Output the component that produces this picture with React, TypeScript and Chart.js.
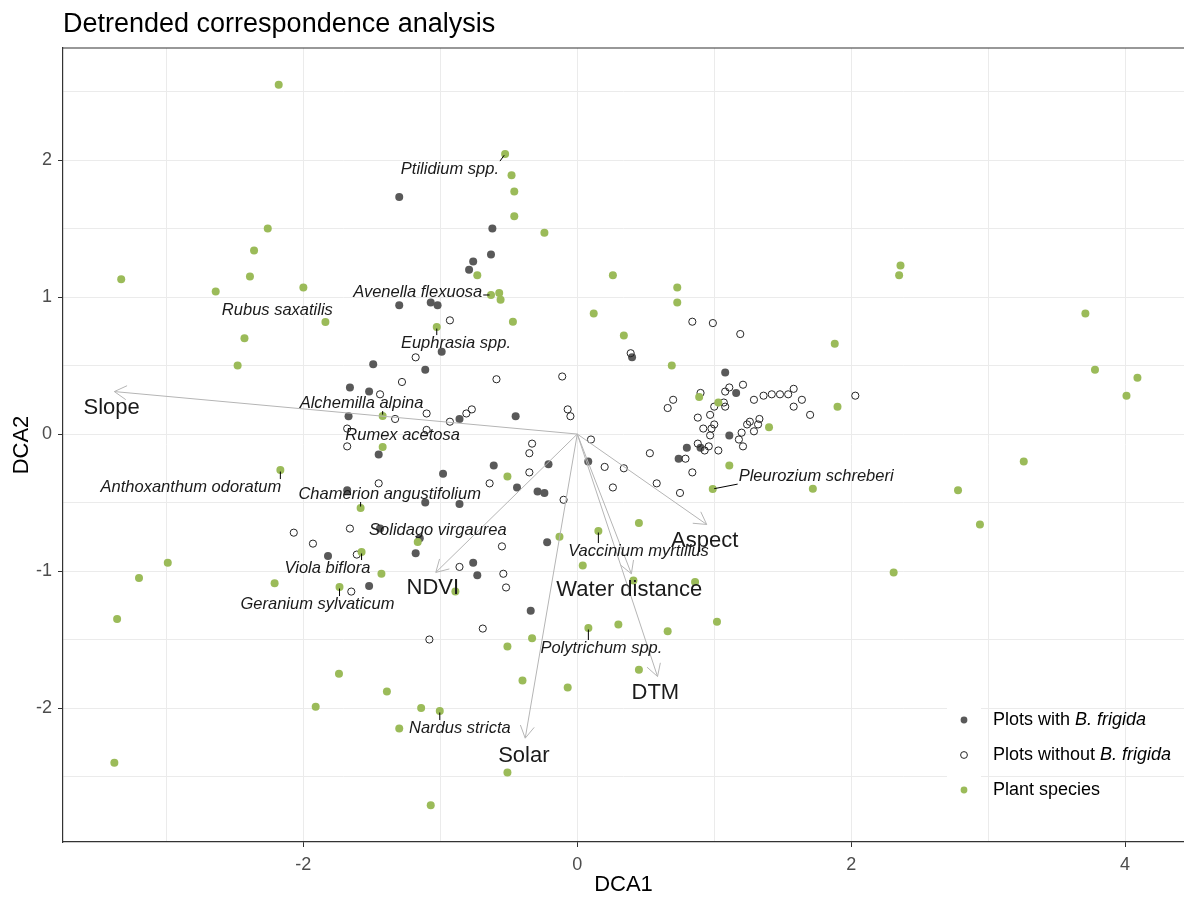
import React, { useEffect, useRef } from 'react';
import { Chart, registerables } from 'chart.js';

Chart.register(...registerables);

const FONT = '"Liberation Sans", Arial, Helvetica, sans-serif';

const X_MIN = -3.755;
const X_MAX = 4.43;
const Y_MIN = -2.978;
const Y_MAX = 2.818;

const xMajorTicks = [-2, 0, 2, 4];
const xMinorTicks = [-3, -1, 1, 3];
const yMajorTicks = [-2, -1, 0, 1, 2];
const yMinorTicks = [-2.5, -1.5, -0.5, 0.5, 1.5, 2.5];

const chartTitle = 'Detrended correspondence analysis';
const xTitle = 'DCA1';
const yTitle = 'DCA2';

// Plots with B. frigida (filled dark points)
const plotsWith: [number, number][] = [
  [-1.30, 1.73], [-0.62, 1.50], [-0.63, 1.31], [-0.76, 1.26], [-0.79, 1.20],
  [-1.30, 0.94], [-1.07, 0.96], [-1.02, 0.94], [-0.99, 0.60], [-1.49, 0.51],
  [-1.11, 0.47], [-1.66, 0.34], [-1.52, 0.31], [-1.67, 0.13], [-0.86, 0.11],
  [-0.45, 0.13], [-1.45, -0.15], [-0.61, -0.23], [-0.21, -0.22], [0.08, -0.20],
  [-0.98, -0.29], [-0.44, -0.39], [-0.29, -0.42], [-0.24, -0.43], [-1.68, -0.41],
  [-1.11, -0.50], [-0.86, -0.51], [-1.15, -0.76], [-1.44, -0.69], [-1.18, -0.87],
  [-0.22, -0.79], [-1.82, -0.89], [-0.76, -0.94], [-0.73, -1.03], [-1.52, -1.11],
  [-0.34, -1.29], [0.40, 0.56], [1.08, 0.45], [1.16, 0.30], [1.11, -0.01],
  [0.80, -0.10], [0.74, -0.18], [0.90, -0.10],
];

// Plots without B. frigida (open circles)
const plotsWithout: [number, number][] = [
  [-0.93, 0.83], [-1.18, 0.56], [-1.28, 0.38], [-0.59, 0.40], [-0.11, 0.42],
  [-1.44, 0.29], [-1.33, 0.11], [-1.10, 0.15], [-0.93, 0.09], [-0.81, 0.15],
  [-0.77, 0.18], [-0.07, 0.18], [-0.05, 0.13], [-1.68, 0.04], [-1.10, 0.03],
  [-1.68, -0.09], [0.10, -0.04], [-0.33, -0.07], [-0.35, -0.14], [0.20, -0.24],
  [0.34, -0.25], [-0.35, -0.28], [-1.45, -0.36], [-0.64, -0.36], [0.26, -0.39],
  [-0.10, -0.48], [-1.66, -0.69], [-0.55, -0.82], [-2.07, -0.72], [-1.93, -0.80],
  [-1.61, -0.88], [-1.65, -1.15], [-0.86, -0.97], [-0.54, -1.02], [-0.52, -1.12],
  [-0.69, -1.42], [-1.08, -1.50],
  [0.84, 0.82], [0.99, 0.81], [1.19, 0.73], [0.39, 0.59], [1.11, 0.34],
  [1.21, 0.36], [1.08, 0.31], [0.90, 0.30], [0.70, 0.25], [0.66, 0.19],
  [1.29, 0.25], [1.36, 0.28], [1.42, 0.29], [1.48, 0.29], [1.54, 0.29],
  [1.58, 0.33], [1.64, 0.25], [1.58, 0.20], [1.70, 0.14], [2.03, 0.28],
  [1.07, 0.23], [1.08, 0.20], [1.00, 0.20], [0.97, 0.14], [0.88, 0.12],
  [1.00, 0.07], [0.92, 0.04], [0.98, 0.04], [0.97, -0.01], [1.33, 0.11],
  [1.26, 0.09], [1.24, 0.07], [1.32, 0.07], [1.29, 0.02], [1.20, 0.01],
  [1.18, -0.04], [1.21, -0.09], [0.88, -0.07], [0.96, -0.09], [0.93, -0.12],
  [1.03, -0.12], [0.79, -0.18], [0.53, -0.14], [0.84, -0.28], [0.58, -0.36],
  [0.75, -0.43],
];

// Plant species scores (green points)
const speciesPoints: [number, number][] = [
  [-2.18, 2.55], [-3.33, 1.13], [-2.64, 1.04], [-2.39, 1.15], [-2.36, 1.34],
  [-2.26, 1.50], [-2.00, 1.07], [-1.839, 0.818], [-2.43, 0.70], [-2.48, 0.50],
  [-2.168, -0.263], [-1.582, -0.540], [-1.575, -0.861], [-1.421, 0.131], [-1.421, -0.095],
  [-1.026, 0.781], [-1.165, -0.788], [-0.51, -0.31], [-0.13, -0.75], [0.154, -0.708],
  [-0.47, 0.82], [0.12, 0.88], [0.34, 0.72], [-0.527, 2.044], [-0.48, 1.89],
  [-0.46, 1.77], [-0.46, 1.59], [-0.24, 1.47], [-0.73, 1.16], [0.26, 1.16],
  [-0.630, 1.015], [-0.57, 1.03], [-0.56, 0.98], [0.73, 1.07], [0.73, 0.96],
  [1.88, 0.66], [0.69, 0.50], [0.89, 0.27], [1.03, 0.23], [1.90, 0.20],
  [1.40, 0.05], [1.11, -0.23], [0.989, -0.401], [1.72, -0.40], [2.36, 1.23],
  [2.35, 1.16], [3.71, 0.88], [3.78, 0.47], [4.09, 0.41], [4.01, 0.28],
  [3.26, -0.20], [2.78, -0.41], [2.94, -0.66], [2.31, -1.01], [0.45, -0.65],
  [0.41, -1.07], [0.86, -1.08], [0.30, -1.39], [0.66, -1.44], [1.02, -1.37],
  [0.45, -1.72], [-1.43, -1.02], [-1.736, -1.117], [-0.89, -1.15], [0.04, -0.96],
  [0.081, -1.416], [-0.33, -1.49], [-0.51, -1.55], [-1.74, -1.75], [-1.39, -1.88],
  [-0.40, -1.80], [-0.07, -1.85], [-1.14, -2.00], [-1.004, -2.022], [-1.30, -2.15],
  [-0.51, -2.47], [-1.07, -2.71], [-2.99, -0.94], [-3.20, -1.05], [-2.21, -1.09],
  [-3.36, -1.35], [-1.91, -1.99], [-3.38, -2.40],
];

// Environmental vectors
const envNames = ['Slope', 'Aspect', 'Water distance', 'DTM', 'NDVI', 'Solar'];
const envTips: [number, number][] = [
  [-3.38, 0.31], [0.945, -0.66], [0.395, -1.02], [0.586, -1.77], [-1.033, -1.01], [-0.38, -2.22],
];
const envLabelPos: [number, number][] = [
  [-3.40, 0.19], [0.93, -0.78], [0.38, -1.14], [0.57, -1.89], [-1.055, -1.12], [-0.39, -2.35],
];

// Labelled species
const speciesNames = [
  'Ptilidium spp.', 'Avenella flexuosa', 'Rubus saxatilis', 'Euphrasia spp.',
  'Alchemilla alpina', 'Rumex acetosa', 'Anthoxanthum odoratum', 'Chamerion angustifolium',
  'Solidago virgaurea', 'Viola biflora', 'Geranium sylvaticum', 'Vaccinium myrtillus',
  'Pleurozium schreberi', 'Polytrichum spp.', 'Nardus stricta',
];
const speciesLabelPos: [number, number][] = [
  [-0.930, 1.934], [-1.165, 1.036], [-2.190, 0.905], [-0.886, 0.664],
  [-1.575, 0.226], [-1.275, -0.007], [-2.821, -0.387], [-1.370, -0.438],
  [-1.018, -0.701], [-1.824, -0.978], [-1.897, -1.241], [0.447, -0.854],
  [1.744, -0.307], [0.176, -1.562], [-0.857, -2.146],
];
const speciesLabelPoint: [number, number][] = [
  [-0.527, 2.044], [-0.630, 1.015], [-1.839, 0.818], [-1.026, 0.781],
  [-1.421, 0.131], [-1.421, -0.095], [-2.168, -0.263], [-1.582, -0.540],
  [-1.165, -0.788], [-1.575, -0.861], [-1.736, -1.117], [0.154, -0.708],
  [0.989, -0.401], [0.081, -1.416], [-1.004, -2.022],
];

const legendItems = [
  { plain: 'Plots with ', italic: 'B. frigida', kind: 'with' },
  { plain: 'Plots without ', italic: 'B. frigida', kind: 'without' },
  { plain: 'Plant species', italic: '', kind: 'species' },
];

const COL_WITH = '#595959';
const COL_WITHOUT = '#262626';
const COL_SPECIES = '#9BBB59';
const COL_ARROW = '#b5b5b5';

const toXY = (arr: [number, number][]) => arr.map(([x, y]) => ({ x, y }));

const decorPlugin = {
  id: 'decor',
  afterDatasetsDraw(chart: any) {
    const { ctx, scales, chartArea } = chart;
    const xs = scales.x;
    const ys = scales.y;
    ctx.save();
    // top border of panel
    ctx.strokeStyle = '#333333';
    ctx.lineWidth = 1.2;
    ctx.beginPath();
    ctx.moveTo(chartArea.left, chartArea.top);
    ctx.lineTo(chartArea.right, chartArea.top);
    ctx.stroke();

    // arrow heads
    ctx.strokeStyle = COL_ARROW;
    ctx.lineWidth = 1;
    const x0 = xs.getPixelForValue(0);
    const y0 = ys.getPixelForValue(0);
    envTips.forEach(([tx, ty]) => {
      const x1 = xs.getPixelForValue(tx);
      const y1 = ys.getPixelForValue(ty);
      const ang = Math.atan2(y1 - y0, x1 - x0);
      const L = 14;
      const a = Math.PI / 6;
      ctx.beginPath();
      ctx.moveTo(x1 - L * Math.cos(ang - a), y1 - L * Math.sin(ang - a));
      ctx.lineTo(x1, y1);
      ctx.lineTo(x1 - L * Math.cos(ang + a), y1 - L * Math.sin(ang + a));
      ctx.stroke();
    });

    // env labels
    ctx.fillStyle = '#1a1a1a';
    ctx.font = `22px ${FONT}`;
    ctx.textAlign = 'center';
    ctx.textBaseline = 'middle';
    envNames.forEach((n, i) => {
      ctx.fillText(n, xs.getPixelForValue(envLabelPos[i][0]), ys.getPixelForValue(envLabelPos[i][1]));
    });

    // species labels + leader segments
    ctx.font = `italic 16.5px ${FONT}`;
    speciesNames.forEach((n, i) => {
      const lx = xs.getPixelForValue(speciesLabelPos[i][0]);
      const ly = ys.getPixelForValue(speciesLabelPos[i][1]);
      const px = xs.getPixelForValue(speciesLabelPoint[i][0]);
      const py = ys.getPixelForValue(speciesLabelPoint[i][1]);
      const w = ctx.measureText(n).width + 2;
      const h = 16;
      const sx = Math.min(Math.max(px, lx - w / 2), lx + w / 2);
      const sy = Math.min(Math.max(py, ly - h / 2), ly + h / 2);
      const len = Math.hypot(px - sx, py - sy);
      if (len > 5) {
        const ex = px - ((px - sx) / len) * 1.5;
        const ey = py - ((py - sy) / len) * 1.5;
        ctx.strokeStyle = '#000000';
        ctx.lineWidth = 1;
        ctx.beginPath();
        ctx.moveTo(sx, sy);
        ctx.lineTo(ex, ey);
        ctx.stroke();
      }
      ctx.fillStyle = '#1a1a1a';
      ctx.fillText(n, lx, ly);
    });
    ctx.restore();
  },
  afterDraw(chart: any) {
    const { ctx, chartArea } = chart;
    ctx.save();
    // Title
    ctx.fillStyle = '#000000';
    ctx.font = `27px ${FONT}`;
    ctx.textAlign = 'left';
    ctx.textBaseline = 'alphabetic';
    ctx.fillText(chartTitle, chartArea.left, 32);

    // Axis titles
    ctx.font = `22px ${FONT}`;
    ctx.textAlign = 'center';
    ctx.textBaseline = 'middle';
    ctx.fillText(xTitle, (chartArea.left + chartArea.right) / 2, 885);
    ctx.save();
    ctx.translate(22, (chartArea.top + chartArea.bottom) / 2);
    ctx.rotate(-Math.PI / 2);
    ctx.fillText(yTitle, 0, 0);
    ctx.restore();

    // Legend
    const keyX = 964;
    const textX = 993;
    const ys0 = [720, 755, 790];
    legendItems.forEach((it, i) => {
      const ky = ys0[i];
      ctx.fillStyle = '#ffffff';
      ctx.fillRect(947, ky - 17, 34, 34);
      ctx.beginPath();
      ctx.arc(keyX, ky, 3.4, 0, Math.PI * 2);
      if (it.kind === 'without') {
        ctx.fillStyle = '#ffffff';
        ctx.fill();
        ctx.strokeStyle = COL_WITHOUT;
        ctx.lineWidth = 1;
        ctx.stroke();
      } else {
        ctx.fillStyle = it.kind === 'with' ? COL_WITH : COL_SPECIES;
        ctx.fill();
      }
      ctx.fillStyle = '#000000';
      ctx.textAlign = 'left';
      ctx.textBaseline = 'middle';
      ctx.font = `18px ${FONT}`;
      ctx.fillText(it.plain, textX, ky);
      const wPlain = ctx.measureText(it.plain).width;
      if (it.italic) {
        ctx.font = `italic 18px ${FONT}`;
        ctx.fillText(it.italic, textX + wPlain, ky);
      }
    });
    ctx.restore();
  },
};

export default function App() {
  const canvasRef = useRef<HTMLCanvasElement | null>(null);

  useEffect(() => {
    if (!canvasRef.current) return;
    const arrowDatasets = envTips.map(([tx, ty], i) => ({
      type: 'line' as const,
      label: envNames[i],
      data: [{ x: 0, y: 0 }, { x: tx, y: ty }],
      borderColor: COL_ARROW,
      borderWidth: 1,
      pointRadius: 0,
      showLine: true,
      fill: false,
      order: 0,
    }));
    const xAll = [...xMinorTicks, ...xMajorTicks].sort((a, b) => a - b);
    const yAll = [...yMinorTicks, ...yMajorTicks].sort((a, b) => a - b);

    const chart = new Chart(canvasRef.current, {
      type: 'scatter',
      data: {
        datasets: [
          ...arrowDatasets,
          {
            label: 'Plant species',
            data: toXY(speciesPoints),
            backgroundColor: COL_SPECIES,
            borderColor: COL_SPECIES,
            borderWidth: 0,
            pointRadius: 4,
            order: 1,
          },
          {
            label: 'Plots without B. frigida',
            data: toXY(plotsWithout),
            backgroundColor: 'rgba(255,255,255,0)',
            borderColor: COL_WITHOUT,
            borderWidth: 1,
            pointRadius: 3.6,
            order: 2,
          },
          {
            label: 'Plots with B. frigida',
            data: toXY(plotsWith),
            backgroundColor: COL_WITH,
            borderColor: COL_WITH,
            borderWidth: 0,
            pointRadius: 4,
            order: 3,
          },
        ] as any,
      },
      options: {
        responsive: false,
        animation: false,
        devicePixelRatio: 1,
        events: [],
        layout: { autoPadding: false, padding: { top: 48, left: 0, right: 0, bottom: 0 } },
        plugins: {
          legend: { display: false },
          title: { display: false },
          tooltip: { enabled: false },
        },
        scales: {
          x: {
            type: 'linear',
            min: X_MIN,
            max: X_MAX,
            afterBuildTicks: (s: any) => {
              s.ticks = xAll.map((v) => ({ value: v }));
            },
            afterFit: (s: any) => {
              s.height = 55;
              s.paddingLeft = 0;
              s.paddingRight = 0;
            },
            ticks: {
              autoSkip: false,
              maxRotation: 0,
              padding: 7,
              color: '#4d4d4d',
              font: { size: 18, family: FONT },
              callback: (v: any) => (xMajorTicks.includes(Number(v)) ? String(v) : ''),
            },
            grid: {
              color: '#ebebeb',
              lineWidth: 1,
              tickLength: 5,
              tickColor: (c: any) => (c.tick && xMajorTicks.includes(c.tick.value) ? '#333333' : 'rgba(0,0,0,0)'),
            },
            border: { display: true, color: '#333333', width: 1.2 },
          },
          y: {
            type: 'linear',
            min: Y_MIN,
            max: Y_MAX,
            afterBuildTicks: (s: any) => {
              s.ticks = yAll.map((v) => ({ value: v }));
            },
            afterFit: (s: any) => {
              s.width = 63;
              s.paddingTop = 0;
              s.paddingBottom = 0;
            },
            ticks: {
              autoSkip: false,
              padding: 6,
              color: '#4d4d4d',
              font: { size: 18, family: FONT },
              callback: (v: any) => (yMajorTicks.includes(Number(v)) ? String(v) : ''),
            },
            grid: {
              color: '#ebebeb',
              lineWidth: 1,
              tickLength: 5,
              tickColor: (c: any) => (c.tick && yMajorTicks.includes(c.tick.value) ? '#333333' : 'rgba(0,0,0,0)'),
            },
            border: { display: true, color: '#333333', width: 1.2 },
          },
        },
      } as any,
      plugins: [decorPlugin],
    });
    return () => chart.destroy();
  }, []);

  return (
    <div style={{ position: 'absolute', left: 0, top: 0, width: 1184, height: 897, background: '#ffffff' }}>
      <canvas ref={canvasRef} width={1184} height={897} style={{ display: 'block' }} />
    </div>
  );
}
